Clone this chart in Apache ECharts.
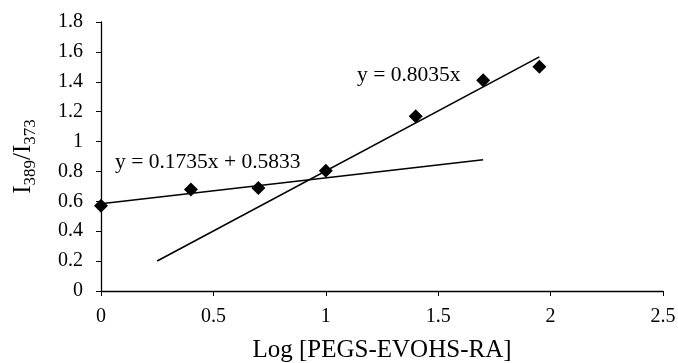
<!DOCTYPE html>
<html>
<head>
<meta charset="utf-8">
<script src="https://cdn.jsdelivr.net/npm/echarts@6/dist/echarts.min.js"></script>
<style>
  html, body { margin: 0; padding: 0; background: #fff; }
  #chart { width: 678px; height: 363px; }
</style>
</head>
<body>
<div id="chart"></div>
<script>
// measured points
const logConc = [0, 0.4, 0.7, 1.0, 1.4, 1.7, 1.95];
const ratio = [0.57, 0.68, 0.69, 0.805, 1.17, 1.41, 1.50];

// trendline end points (from the printed fits)
const fitLowX = [0, 1.7];
const fitLowY = [0.5833, 0.8783];
const fitHighX = [0.25, 1.95];
const fitHighY = [0.2009, 1.5668];

const fitLowLabel = 'y = 0.1735x + 0.5833';
const fitHighLabel = 'y = 0.8035x';

const font = '"Liberation Serif", "Times New Roman", serif';

const myChart = echarts.init(document.getElementById('chart'));
myChart.setOption({
  animation: false,
  textStyle: { fontFamily: font, color: '#000' },
  grid: { left: 101, right: 15, top: 22, bottom: 72, outerBoundsMode: 'none', containLabel: false },
  xAxis: {
    type: 'value',
    min: 0, max: 2.5, interval: 0.5,
    name: 'Log [PEGS-EVOHS-RA]',
    nameLocation: 'middle',
    nameGap: 47,
    nameTextStyle: { fontFamily: font, fontSize: 25, color: '#000' },
    axisLine: { lineStyle: { color: '#000', width: 1.3 } },
    axisTick: { show: true, length: 5, lineStyle: { color: '#000' } },
    axisLabel: { fontFamily: font, fontSize: 20, color: '#000', margin: 16 },
    splitLine: { show: false }
  },
  yAxis: {
    type: 'value',
    min: 0, max: 1.8, interval: 0.2,
    name: '{a|I}{s|389}{a|/I}{s|373}',
    nameLocation: 'middle',
    nameGap: 60,
    nameTextStyle: {
      fontFamily: font, color: '#000',
      rich: {
        a: { fontFamily: font, fontSize: 25, color: '#000', lineHeight: 30, verticalAlign: 'top' },
        s: { fontFamily: font, fontSize: 17, color: '#000', lineHeight: 30, padding: [11, 0, 0, 0], verticalAlign: 'top' }
      }
    },
    axisLine: { show: true, lineStyle: { color: '#000', width: 1.3 } },
    axisTick: { show: true, length: 5, lineStyle: { color: '#000' } },
    axisLabel: {
      fontFamily: font, fontSize: 20, color: '#000', margin: 18,
      formatter: v => String(Math.round(v * 10) / 10)
    },
    splitLine: { show: false }
  },
  series: [
    {
      type: 'line',
      data: fitLowX.map((x, i) => [x, fitLowY[i]]),
      symbol: 'none',
      lineStyle: { color: '#000', width: 1.6 },
      z: 2
    },
    {
      type: 'line',
      data: fitHighX.map((x, i) => [x, fitHighY[i]]),
      symbol: 'none',
      lineStyle: { color: '#000', width: 1.6 },
      z: 2
    },
    {
      type: 'scatter',
      data: logConc.map((x, i) => [x, ratio[i]]),
      symbol: 'diamond',
      symbolSize: 14,
      itemStyle: { color: '#000', opacity: 1 },
      z: 3
    }
  ],
  graphic: [
    {
      type: 'text', left: 115, top: 151,
      style: { text: fitLowLabel, fontFamily: font, fontSize: 21.5, fill: '#000' }
    },
    {
      type: 'text', left: 357, top: 64,
      style: { text: fitHighLabel, fontFamily: font, fontSize: 21.5, fill: '#000' }
    }
  ]
});
</script>
</body>
</html>
